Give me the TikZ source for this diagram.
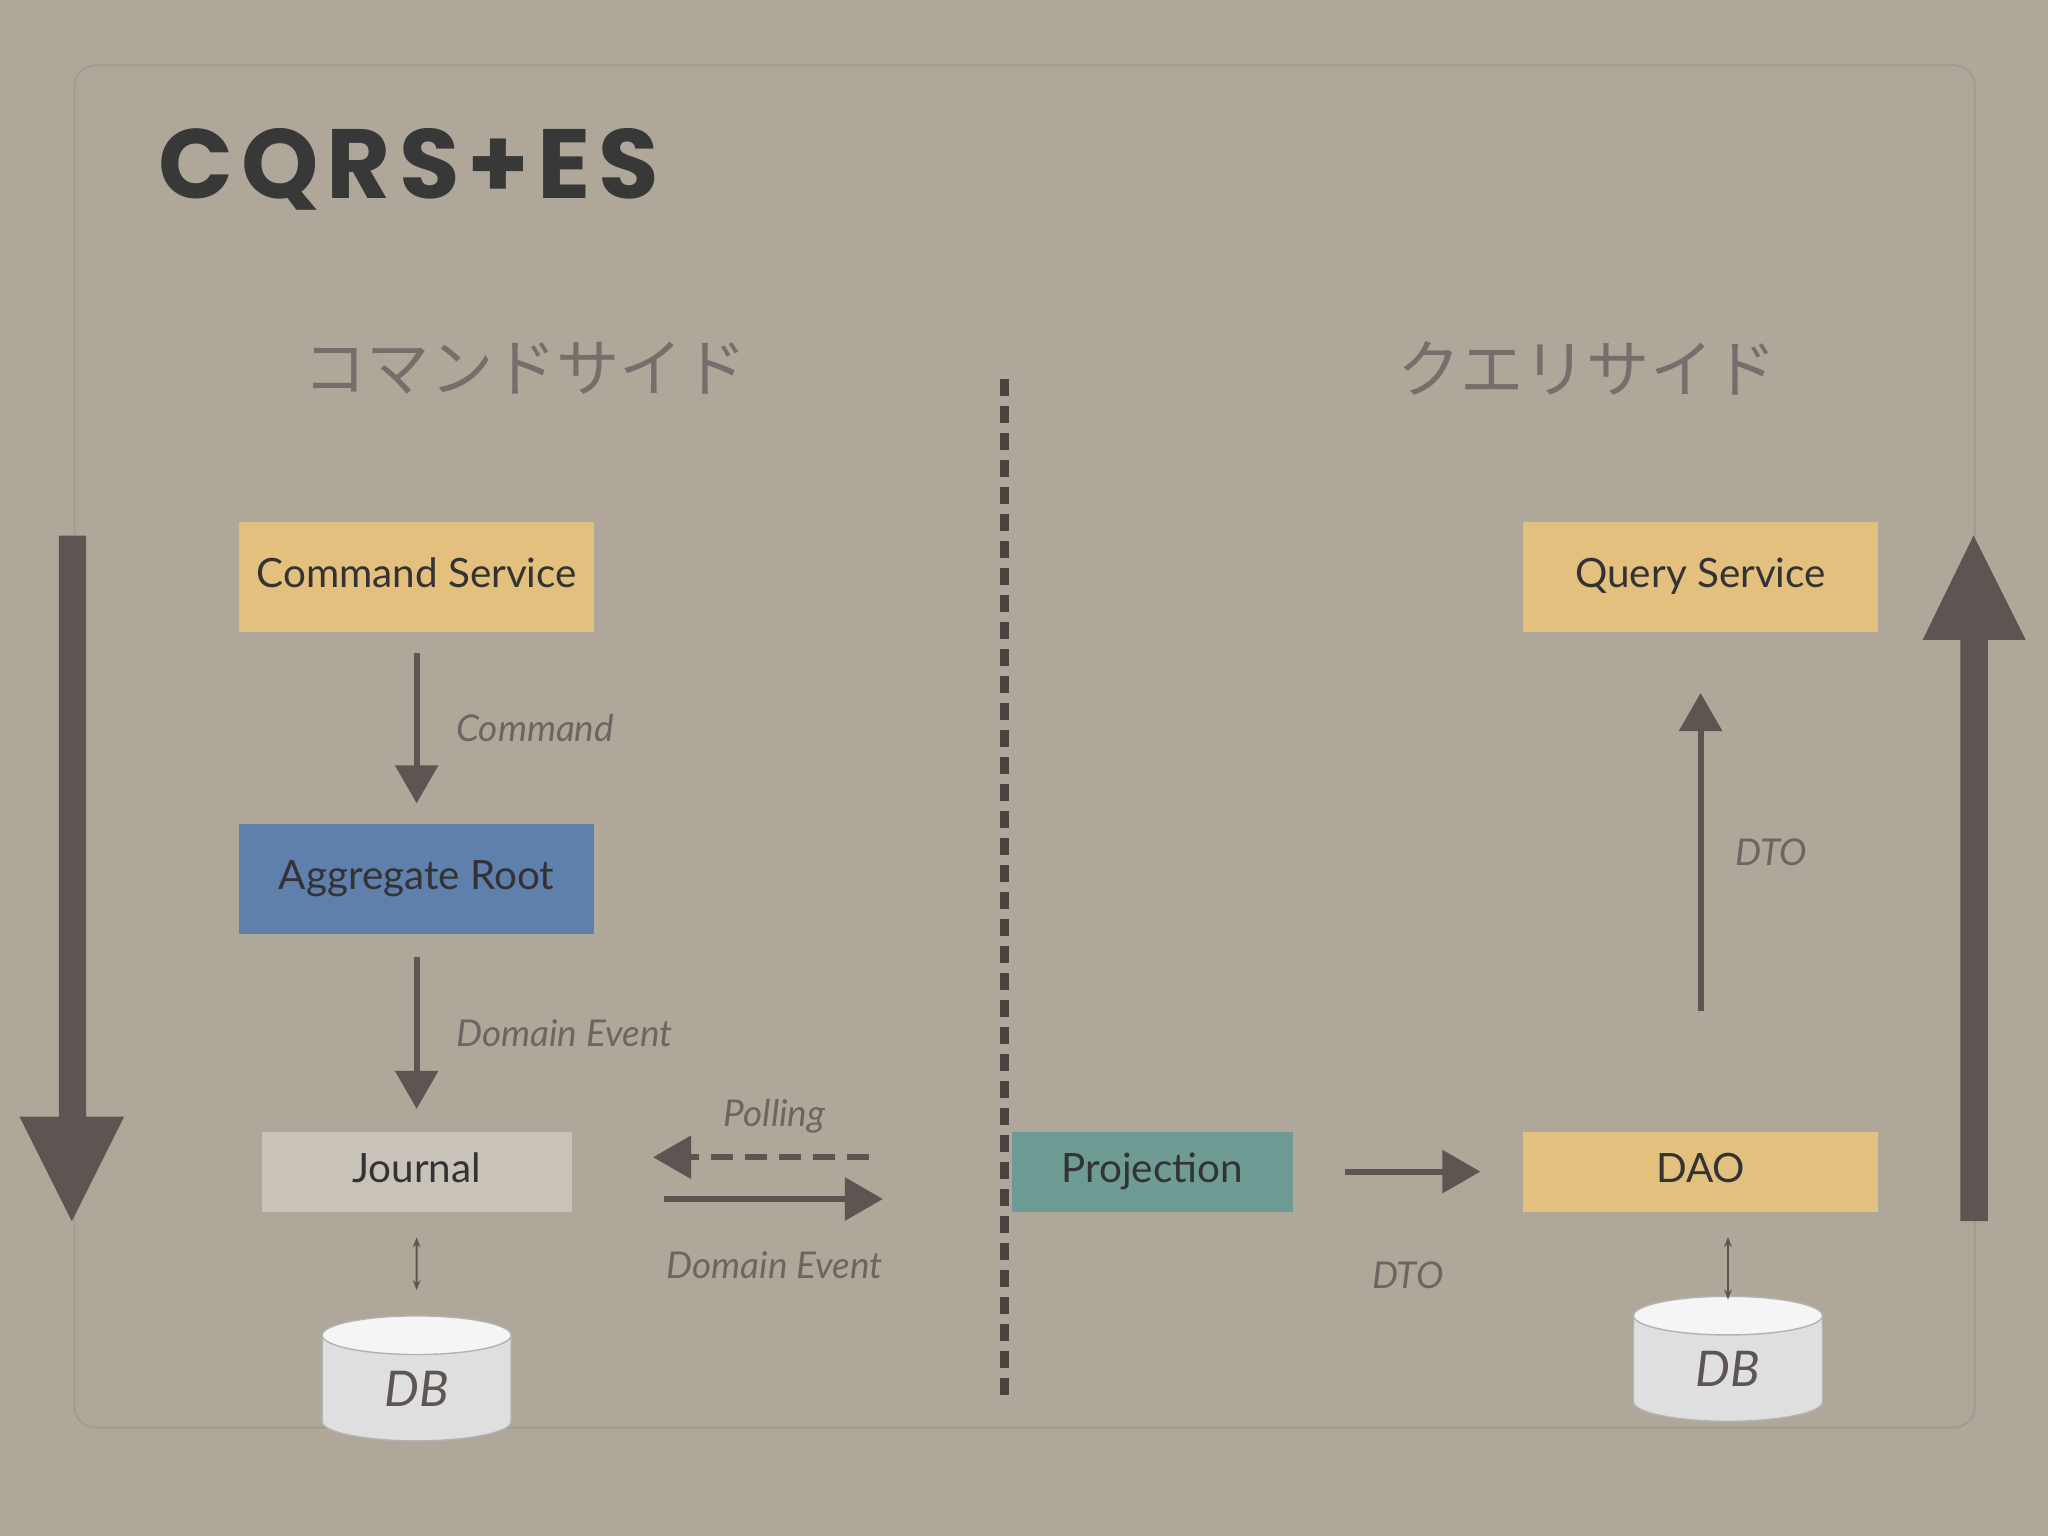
\documentclass[tikz,border=0pt]{standalone}
\usepackage{fontspec}
\setmainfont{Lato}
\newfontfamily\titlefont[LetterSpace=8]{Poppins}
\newfontfamily\cjk{Noto Sans CJK JP}
\usetikzlibrary{arrows.meta,shapes.geometric}
\definecolor{bg}{HTML}{B0A79B}
\definecolor{ink}{HTML}{5C5551}
\definecolor{ylw}{HTML}{E3C07D}
\definecolor{blu}{HTML}{5F80AD}
\definecolor{grayb}{HTML}{C9C2B8}
\definecolor{teal}{HTML}{6E9B93}
\tikzset{
  box/.style={rectangle, minimum width=3.55cm, minimum height=1.1cm, inner sep=0pt, text height=1.6ex, text depth=0.4ex, font=\fontsize{11.5}{14}\selectfont, text=black!80},
  lbl/.style={font=\fontsize{10.5}{12}\selectfont\itshape, text=ink!90},
  flow/.style={draw=ink, line width=0.06cm, -{Triangle[length=0.38cm,width=0.42cm]}},
  tiny/.style={draw=ink, line width=0.02cm, {Stealth[length=0.1cm]}-{Stealth[length=0.1cm]}},
  db/.style={cylinder, shape border rotate=90, aspect=0.6, minimum width=1.89cm, minimum height=1.25cm, draw=gray!60, cylinder uses custom fill, cylinder body fill=gray!25, cylinder end fill=gray!8, font=\fontsize{14}{17}\selectfont\itshape, text=ink, inner sep=0pt},
  big/.style={fill=ink}
}
\begin{document}
\begin{tikzpicture}[x=0.01306cm,y=-0.01306cm]
\fill[bg] (0,0) rectangle (1568,1176);
\useasboundingbox (0,0) rectangle (1568,1176);
\draw[bg!92!black, rounded corners=6, line width=0.5pt] (57,50) rectangle (1512,1093);
\node[anchor=west, font=\titlefont\bfseries\fontsize{28}{32}\selectfont, text=black!78] (title) at (112,130) {CQRS+ES};
\node[font=\cjk\fontsize{18}{22}\selectfont, text=ink!85] (cmdside) at (402,282) {コマンドサイド};
\node[font=\cjk\fontsize{18}{22}\selectfont, text=ink!85] (qryside) at (1215,282) {クエリサイド};
\coordinate (dtop) at (769,290);
\coordinate (dbot) at (769,1072);
\draw[ink!80!black, line width=0.09cm, dash pattern=on 0.17cm off 0.1cm] (dtop) -- (dbot);
% left column
\node[box, fill=ylw] (cs) at (319,442) {Command Service};
\node[box, fill=blu] (ar) at (319,673) {Aggregate Root};
\node[box, fill=grayb, minimum width=3.1cm, minimum height=0.8cm] (jr) at (319,897) {Journal};
\node[db] (db1) at (319,1063) {DB};
\draw[flow, shorten <=0.2cm, shorten >=0.2cm] (cs.south) -- node[lbl, right=0.25cm] {Command} (ar.north);
\draw[flow, shorten <=0.22cm, shorten >=0.22cm] (ar.south) -- node[lbl, right=0.25cm] {Domain Event} (jr.north);
\draw[tiny, shorten <=0.25cm, shorten >=0.25cm] (jr.south) -- (db1.north);
% middle
\node[box, fill=teal, minimum width=2.81cm, minimum height=0.8cm] (pj) at (882,897) {Projection};
\coordinate (pa) at (665,886); \coordinate (pb) at (500,886);
\coordinate (ea) at (508,918); \coordinate (eb) at (676,918);
\draw[flow, dash pattern=on 0.22cm off 0.12cm] (pa) -- (pb);
\draw[flow] (ea) -- (eb);
\node[lbl] (poll) at (593,855) {Polling};
\node[lbl] (dev) at (593,969) {Domain Event};
% right column
\node[box, fill=ylw] (qs) at (1302,442) {Query Service};
\node[box, fill=ylw, minimum height=0.8cm] (dao) at (1302,897) {DAO};
\node[db] (db2) at (1323,1048) {DB};
\draw[flow, shorten <=0.52cm, shorten >=0.42cm] (pj.east) -- node[lbl, below=0.75cm] {DTO} (dao.west);
\draw[flow, shorten <=1.2cm, shorten >=0.6cm] (dao.north) -- node[lbl, right=0.2cm, yshift=0.3cm] {DTO} (qs.south);
\coordinate (dt) at (1323,947); \coordinate (dbt) at (1323,995);
\draw[tiny] (dt) -- (dbt);
% big arrows
\fill[big] (45,410) -- (66,410) -- (66,855) -- (95,855) -- (55,935) -- (15,855) -- (45,855) -- cycle;
\fill[big] (1501,935) -- (1522,935) -- (1522,490) -- (1551,490) -- (1511,410) -- (1472,490) -- (1501,490) -- cycle;
\end{tikzpicture}
\end{document}
